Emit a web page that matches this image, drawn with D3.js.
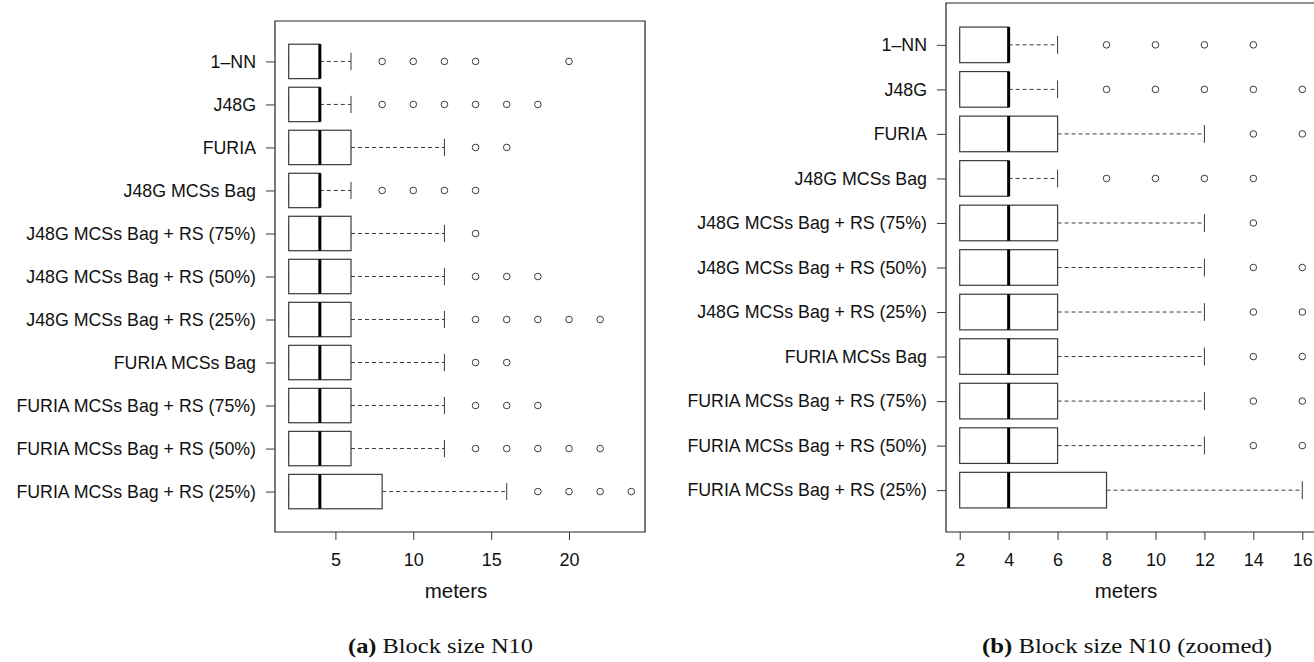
<!DOCTYPE html>
<html>
<head>
<meta charset="utf-8">
<script src="https://cdn.jsdelivr.net/npm/d3@7"></script>
<style>
  html, body { margin: 0; padding: 0; background: #fff; }
  svg { display: block; }
</style>
</head>
<body>
<svg id="chart" width="1314" height="662"></svg>
<script>
// Localisation error (meters) per classifier, block size N10
const methods = [
  "1\u2013NN",
  "J48G",
  "FURIA",
  "J48G MCSs Bag",
  "J48G MCSs Bag + RS (75%)",
  "J48G MCSs Bag + RS (50%)",
  "J48G MCSs Bag + RS (25%)",
  "FURIA MCSs Bag",
  "FURIA MCSs Bag + RS (75%)",
  "FURIA MCSs Bag + RS (50%)",
  "FURIA MCSs Bag + RS (25%)"
];
const whiskerLow = [2, 2, 2, 2, 2, 2, 2, 2, 2, 2, 2];
const q1         = [2, 2, 2, 2, 2, 2, 2, 2, 2, 2, 2];
const medians    = [4, 4, 4, 4, 4, 4, 4, 4, 4, 4, 4];
const q3         = [4, 4, 6, 4, 6, 6, 6, 6, 6, 6, 8];
const whiskerHigh= [6, 6, 12, 6, 12, 12, 12, 12, 12, 12, 16];
const outliers = [
  [8, 10, 12, 14, 20],
  [8, 10, 12, 14, 16, 18],
  [14, 16],
  [8, 10, 12, 14],
  [14],
  [14, 16, 18],
  [14, 16, 18, 20, 22],
  [14, 16],
  [14, 16, 18],
  [14, 16, 18, 20, 22],
  [18, 20, 22, 24]
];
const ticksFull   = [5, 10, 15, 20];
const ticksZoomed = [2, 4, 6, 8, 10, 12, 14, 16];
const xTitle = "meters";

const svg = d3.select("#chart");
const FONT = "'Liberation Sans', Arial, Helvetica, sans-serif";
const LINE = "#3a3a3a";

function drawPanel(opt) {
  const g = svg.append("g");
  const x = d3.scaleLinear().domain(opt.xDomain).range([opt.left, opt.right]);
  const y = d3.scaleLinear().domain([0.06, methods.length + 0.94]).range([opt.top, opt.bottom]);
  const rowH = y(2) - y(1);
  const boxH = rowH * 0.8;
  const stapleH = boxH * 0.5;

  const clipId = "clip-" + opt.id;
  svg.append("clipPath").attr("id", clipId)
    .append("rect")
    .attr("x", opt.left).attr("y", opt.top)
    .attr("width", opt.right - opt.left).attr("height", opt.bottom - opt.top);

  const plot = g.append("g").attr("clip-path", `url(#${clipId})`);

  const rows = plot.selectAll("g.row")
    .data(methods.map((m, i) => ({
      name: m, i: i,
      wl: whiskerLow[i], q1: q1[i], med: medians[i], q3: q3[i], wh: whiskerHigh[i],
      out: outliers[i]
    })))
    .join("g").attr("class", "row");

  // whiskers
  rows.append("line")
    .attr("x1", d => x(d.q3)).attr("x2", d => x(d.wh))
    .attr("y1", d => y(d.i + 1)).attr("y2", d => y(d.i + 1))
    .attr("stroke", LINE).attr("stroke-width", 1).attr("stroke-dasharray", "4,3");
  rows.append("line")
    .attr("x1", d => x(d.wl)).attr("x2", d => x(d.q1))
    .attr("y1", d => y(d.i + 1)).attr("y2", d => y(d.i + 1))
    .attr("stroke", LINE).attr("stroke-width", 1).attr("stroke-dasharray", "4,3");
  // staples
  rows.append("line")
    .attr("x1", d => x(d.wh)).attr("x2", d => x(d.wh))
    .attr("y1", d => y(d.i + 1) - stapleH / 2).attr("y2", d => y(d.i + 1) + stapleH / 2)
    .attr("stroke", LINE).attr("stroke-width", 1);
  rows.append("line")
    .attr("x1", d => x(d.wl)).attr("x2", d => x(d.wl))
    .attr("y1", d => y(d.i + 1) - stapleH / 2).attr("y2", d => y(d.i + 1) + stapleH / 2)
    .attr("stroke", LINE).attr("stroke-width", 1);
  // boxes
  rows.append("rect")
    .attr("x", d => x(d.q1)).attr("width", d => x(d.q3) - x(d.q1))
    .attr("y", d => y(d.i + 1) - boxH / 2).attr("height", boxH)
    .attr("fill", "#fff").attr("stroke", LINE).attr("stroke-width", 1.2);
  // medians
  rows.append("line")
    .attr("x1", d => x(d.med)).attr("x2", d => x(d.med))
    .attr("y1", d => y(d.i + 1) - boxH / 2).attr("y2", d => y(d.i + 1) + boxH / 2)
    .attr("stroke", "#000").attr("stroke-width", 3);
  // outliers
  rows.selectAll("circle")
    .data(d => d.out.map(v => ({ v: v, i: d.i })))
    .join("circle")
    .attr("cx", d => x(d.v)).attr("cy", d => y(d.i + 1)).attr("r", 3.3)
    .attr("fill", "none").attr("stroke", LINE).attr("stroke-width", 1);

  // frame
  g.append("path")
    .attr("d", opt.openRight
      ? `M${opt.right + 5},${opt.top}H${opt.left}V${opt.bottom}H${opt.right + 5}`
      : `M${opt.left},${opt.top}H${opt.right}V${opt.bottom}H${opt.left}Z`)
    .attr("fill", "none").attr("stroke", "#222").attr("stroke-width", 1.2);

  // category axis
  const yAxis = d3.axisLeft(y)
    .tickValues(methods.map((m, i) => i + 1))
    .tickFormat(v => methods[v - 1])
    .tickSize(9).tickPadding(10);
  const ya = g.append("g").attr("transform", `translate(${opt.left},0)`).call(yAxis);
  ya.select(".domain").remove();
  ya.selectAll("line").attr("stroke", LINE);
  ya.selectAll("text").attr("font-family", FONT).attr("font-size", "17.8px").attr("fill", "#111");

  // value axis
  const xAxis = d3.axisBottom(x).tickValues(opt.ticks).tickSize(8).tickPadding(13)
    .tickFormat(d3.format("d"));
  const xa = g.append("g").attr("transform", `translate(0,${opt.bottom})`).call(xAxis);
  xa.select(".domain").remove();
  xa.selectAll("line").attr("stroke", LINE);
  xa.selectAll("text").attr("font-family", FONT).attr("font-size", "18px").attr("fill", "#111");

  g.append("text")
    .attr("x", opt.titleX).attr("y", 598)
    .attr("text-anchor", "middle")
    .attr("font-family", FONT).attr("font-size", "20.5px").attr("fill", "#111")
    .text(xTitle);

  // caption
  const cap = g.append("text")
    .attr("x", opt.capX).attr("y", 653)
    .attr("font-family", "'Liberation Serif', 'Times New Roman', serif")
    .attr("font-size", "20px").attr("fill", "#111")
    .attr("textLength", opt.capW).attr("lengthAdjust", "spacingAndGlyphs");
  cap.append("tspan").attr("font-weight", "bold").text(opt.capTag);
  cap.append("tspan").text(" " + opt.capText);
}

drawPanel({
  id: "full", xDomain: [1.12, 24.88], left: 275, right: 645, top: 21, bottom: 532,
  ticks: ticksFull, titleX: 456, capX: 348, capW: 185,
  capTag: "(a)", capText: "Block size N10"
});
drawPanel({
  id: "zoom", xDomain: [1.44, 16.56], left: 946, right: 1316, top: 3, bottom: 532,
  ticks: ticksZoomed, titleX: 1126, capX: 982, capW: 290, openRight: true,
  capTag: "(b)", capText: "Block size N10 (zoomed)"
});
</script>
</body>
</html>
